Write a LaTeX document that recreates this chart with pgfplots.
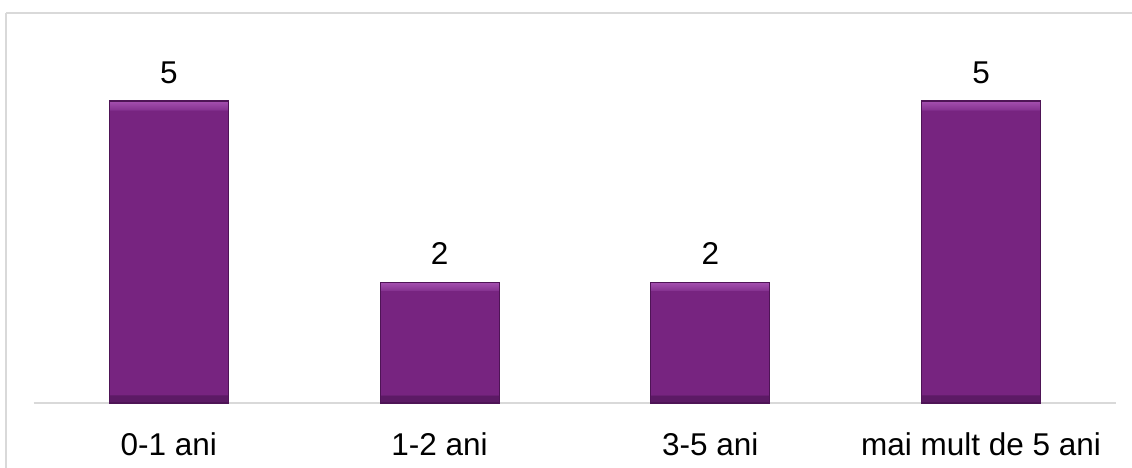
\documentclass[border=0pt]{standalone}
\usepackage{pgfplots}
\pgfplotsset{compat=1.18}
\usepackage{fontspec}
\setmainfont{Liberation Sans}
\definecolor{barcol}{RGB}{119,36,128}
\definecolor{bevtop}{RGB}{165,80,176}
\definecolor{bevtopdk}{RGB}{135,52,146}
\definecolor{bevbot}{RGB}{92,26,101}
\definecolor{edgecol}{RGB}{78,20,86}
\definecolor{framecol}{RGB}{217,217,217}

% vertical shadings with a lit top bevel and a dark bottom bevel (about 8px each)
\pgfdeclareverticalshading{bevfive}{100bp}{color(0bp)=(bevbot); color(25bp)=(bevbot);
  color(26.3bp)=(bevbot); color(26.4bp)=(barcol); color(73.4bp)=(barcol);
  color(73.6bp)=(bevtopdk); color(75bp)=(bevtop); color(100bp)=(bevtop)}
\pgfdeclareverticalshading{bevtwo}{100bp}{color(0bp)=(bevbot); color(25bp)=(bevbot);
  color(28.2bp)=(bevbot); color(28.4bp)=(barcol); color(71.4bp)=(barcol);
  color(71.7bp)=(bevtopdk); color(75bp)=(bevtop); color(100bp)=(bevtop)}

\begin{document}
\begin{tikzpicture}[x=1pt,y=1pt]
% outer frame, cut by the page on the right and at the bottom
\draw[framecol, line width=1.5pt] (6,455) -- (1145,455);
\draw[framecol, line width=1.5pt] (6,455) -- (6,-10);

\begin{axis}[
    at={(33.5pt,65pt)}, anchor=south west,
    scale only axis,
    width=1083pt, height=362.4pt,
    xmin=-0.5, xmax=3.5,
    ymin=0, ymax=6,
    axis y line=none,
    axis x line*=bottom,
    x axis line style={draw=framecol, line width=1.5pt, -},
    xtick={0,1,2,3},
    xticklabels={0-1 ani, 1-2 ani, 3-5 ani, mai mult de 5 ani},
    xtick style={draw=none},
    xticklabel style={font=\fontsize{31.5}{31.5}\selectfont, anchor=north,
        inner sep=0pt, text height=22.5pt, text depth=0pt, yshift=-26pt},
    /pgf/number format/assume math mode=true,
    ybar, bar width=119pt, bar shift=0pt,
    nodes near coords,
    nodes near coords style={font=\fontsize{31.5}{31.5}\selectfont, anchor=south,
        inner sep=0pt, yshift=17pt, black},
    clip=false,
]
\addplot[draw=edgecol, line width=1.2pt, shading=bevfive, shade]
    coordinates {(0,5) (3,5)};
\addplot[draw=edgecol, line width=1.2pt, shading=bevtwo, shade]
    coordinates {(1,2) (2,2)};
\end{axis}

\pgfresetboundingbox
\useasboundingbox (0,0) rectangle (1132,468);
\end{tikzpicture}
\end{document}
